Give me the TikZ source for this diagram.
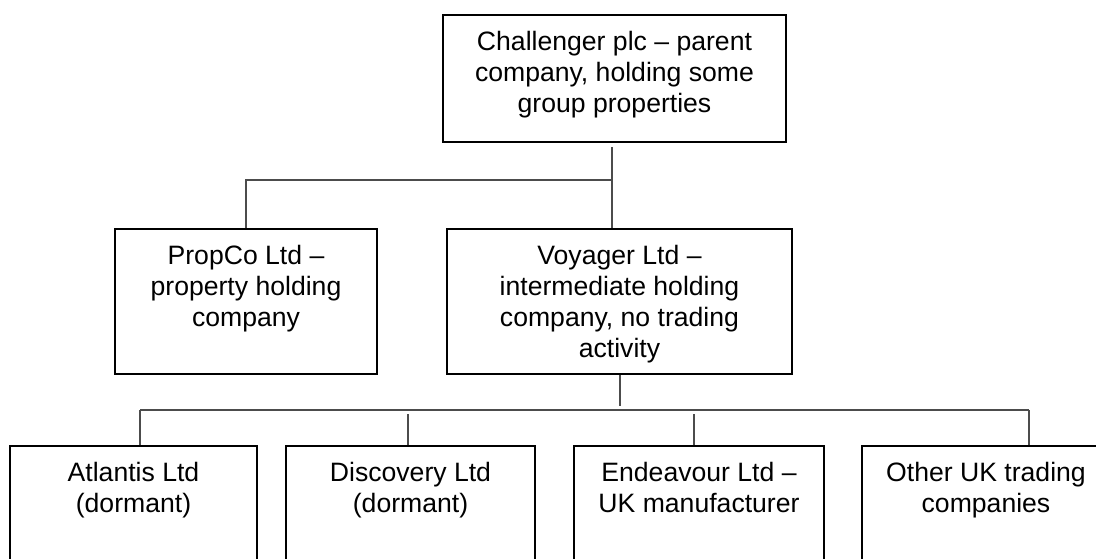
\documentclass[tikz,border=0pt]{standalone}
\usepackage{fontspec}
\setmainfont{Liberation Sans}
\usetikzlibrary{positioning}

\tikzset{
  company/.style={draw=black, line width=1.8pt, inner sep=0pt,
    font=\fontsize{26.6}{31}\selectfont},
  link/.style={draw=black!70, line width=1.2pt}
}
% box of given width/height, text set from the top
\newcommand{\cobox}[3]{\parbox[c][#2pt][t]{#1pt}{\centering\vspace*{14pt}\strut #3}}

\begin{document}
\begin{tikzpicture}[x=1pt,y=-1pt]
                \clip (0,0) rectangle (1096,559);
                \fill[white] (0,0) rectangle (1096,559);

                % parent and first tier
                \node[company] (parent) at (614.5,78.5)
                    {\cobox{343}{127}{Challenger plc -- parent\\ company, holding some\\ group properties}};
                \node[company] (propco) at (246,301.5)
                    {\cobox{262}{145}{PropCo Ltd --\\ property holding\\ company}};
                \node[company] (voyager) at (619.5,301.5)
                    {\cobox{345}{145}{Voyager Ltd --\\ intermediate holding\\ company, no trading\\ activity}};

                % trading tier
                \node[company] (atlantis) at (133.5,518.5)
                    {\cobox{247}{145}{Atlantis Ltd\\ (dormant)}};
                \node[company] (discovery) at (410.5,518.5)
                    {\cobox{249}{145}{Discovery Ltd\\ (dormant)}};
                \node[company] (endeavour) at (699,518.5)
                    {\cobox{250}{145}{Endeavour Ltd --\\ UK manufacturer}};
                \node[company] (other) at (986,518.5)
                    {\cobox{248}{145}{Other UK trading\\ companies}};

                % upper links
                \coordinate (topbus) at (612,180);
                \draw[link, shorten <=4pt] (parent.south -| topbus) -- (voyager.north -| topbus);
                \draw[link] (propco.north) |- (topbus);

                % lower links
                \coordinate (lowbus) at (620,410);
                \coordinate (a1) at (140,410);
                \coordinate (d1) at (408,410);
                \coordinate (e1) at (694,410);
                \coordinate (o1) at (1029,410);
                \draw[link, shorten >=4pt] (voyager.south -| lowbus) -- (lowbus);
                \draw[link] (a1) -- (o1);
                \draw[link] (a1) -- (a1 |- atlantis.north);
                \draw[link, shorten <=4pt] (d1) -- (d1 |- discovery.north);
                \draw[link, shorten <=4pt] (e1) -- (e1 |- endeavour.north);
                \draw[link] (o1) -- (o1 |- other.north);
            \end{tikzpicture}
\end{document}
